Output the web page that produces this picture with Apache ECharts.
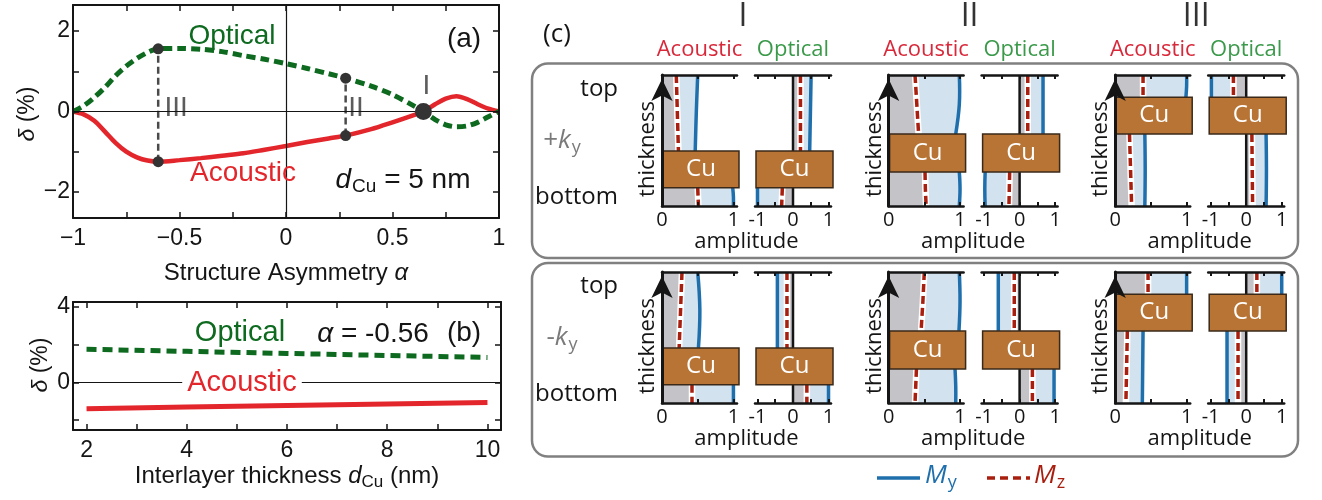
<!DOCTYPE html>
<html>
<head>
<meta charset="utf-8">
<script src="https://cdn.jsdelivr.net/npm/echarts@6/dist/echarts.min.js"></script>
<style>
  html, body { margin: 0; padding: 0; background: #fff; }
  #chart { width: 1322px; height: 500px; }
</style>
</head>
<body>
<div id="chart"></div>
<script>
// (a) dispersion asymmetry vs structure asymmetry
const alphaValues = [-1, -0.95, -0.9, -0.85, -0.8, -0.75, -0.7, -0.65, -0.6, -0.5, -0.4, -0.3, -0.2, -0.1, 0, 0.1, 0.2, 0.28, 0.4, 0.5, 0.6, 0.645, 0.7, 0.75, 0.8, 0.85, 0.9, 0.95, 1];
const acousticDelta = [0, -0.07, -0.23, -0.5, -0.78, -1.0, -1.14, -1.22, -1.25, -1.21, -1.16, -1.1, -1.04, -0.95, -0.86, -0.76, -0.67, -0.6, -0.44, -0.27, -0.09, 0, 0.18, 0.32, 0.38, 0.31, 0.18, 0.07, 0];
const opticalDelta = [0, 0.14, 0.35, 0.6, 0.89, 1.13, 1.32, 1.47, 1.56, 1.57, 1.55, 1.49, 1.39, 1.3, 1.19, 1.07, 0.94, 0.83, 0.63, 0.42, 0.14, 0, -0.2, -0.33, -0.38, -0.36, -0.27, -0.13, 0];

const modeNames = ['I', 'II', 'III'];
const modeAlpha = [0.645, 0.28, -0.6];
const modeAcoustic = [0, -0.6, -1.25];
const modeOptical = [0, 0.83, 1.56];
const modeLabelAlpha = [0.64, 0.31, -0.535];
const modeLabelDelta = [0.62, 0.07, 0.07];

// (b) vs Cu thickness at alpha = -0.56
const dCuValues = [2, 4, 6, 8, 10];
const acousticVsD = [-1.4, -1.31, -1.22, -1.14, -1.06];
const opticalVsD = [1.75, 1.64, 1.53, 1.42, 1.32];

// (c) mode profiles; per mode I, II, III: [top layer (top -> Cu), bottom layer (Cu -> bottom)]
const cuBounds = [[0.14, 0.42], [0.26, 0.55], [0.55, 0.83]];
const myPlusAcoustic = [
  [[0.50, 0.48, 0.465], [0.99, 1.0, 1.0]],
  [[0.99, 0.99, 0.94], [0.99, 1.0, 0.99]],
  [[1.0, 1.0, 0.99], [0.415, 0.42, 0.415]]
];
const mzPlusAcoustic = [
  [[0.20, 0.215, 0.23], [0.50, 0.505, 0.51]],
  [[0.37, 0.395, 0.42], [0.51, 0.515, 0.525]],
  [[0.39, 0.39, 0.39], [0.20, 0.215, 0.23]]
];
const myPlusOptical = [
  [[0.51, 0.49, 0.47], [-1.0, -1.0, -1.0]],
  [[0.66, 0.66, 0.66], [-0.97, -0.98, -0.97]],
  [[-0.98, -0.98, -0.98], [0.56, 0.57, 0.56]]
];
const mzPlusOptical = [
  [[0.21, 0.21, 0.21], [-0.30, -0.31, -0.32]],
  [[0.23, 0.23, 0.23], [-0.28, -0.29, -0.30]],
  [[-0.36, -0.36, -0.36], [0.16, 0.17, 0.18]]
];
const myMinusAcoustic = [
  [[0.50, 0.53, 0.51], [1.0, 1.0, 1.0]],
  [[0.99, 1.0, 0.985], [0.93, 0.94, 0.94]],
  [[1.0, 1.0, 1.0], [0.39, 0.385, 0.38]]
];
const mzMinusAcoustic = [
  [[0.28, 0.26, 0.24], [0.42, 0.42, 0.42]],
  [[0.50, 0.48, 0.455], [0.39, 0.38, 0.37]],
  [[0.46, 0.46, 0.46], [0.17, 0.16, 0.15]]
];
const myMinusOptical = [
  [[-0.44, -0.44, -0.44], [1.0, 1.0, 1.0]],
  [[-0.60, -0.60, -0.60], [0.97, 0.97, 0.97]],
  [[1.0, 1.0, 1.0], [-0.54, -0.54, -0.54]]
];
const mzMinusOptical = [
  [[-0.17, -0.17, -0.17], [0.39, 0.39, 0.39]],
  [[-0.15, -0.15, -0.15], [0.36, 0.36, 0.36]],
  [[0.30, 0.30, 0.30], [-0.23, -0.23, -0.23]]
];

const FONT_AB = '"Liberation Sans", Arial, sans-serif';
const FONT_C = '"Open Sans", sans-serif';
const RED = '#e3262b', GREEN = '#0d6a1f', BLUE = '#1f6fad', MZRED = '#a91f0f';
const GRAY_FILL = '#c4c3c8', BLUE_FILL = '#d2e3ef', CU = '#b87434';
const INK = '#151515';

const chart = echarts.init(document.getElementById('chart'));

const grids = [], xAxes = [], yAxes = [], series = [], graphics = [];

function minus(v) { return String(v).replace('-', '\u2212'); }

function frameAxis(gi, pos, min, max, ticks, labels, margin) {
  return {
    type: 'value', gridIndex: gi, position: pos, min: min, max: max, z: 5,
    axisLine: { show: true, onZero: false, lineStyle: { color: INK, width: 2 } },
    axisTick: { show: true, inside: true, length: 6, customValues: ticks, lineStyle: { color: INK, width: 1.5 } },
    axisLabel: { show: !!labels, customValues: labels || [], formatter: minus, margin: margin,
      fontSize: 23, fontFamily: FONT_AB, color: INK },
    splitLine: { show: false }
  };
}

// ---- (a)
grids.push({ left: 73, top: 5, width: 426, height: 213 });
const aTicksX = [-1, -0.75, -0.5, -0.25, 0, 0.25, 0.5, 0.75, 1];
xAxes.push(frameAxis(0, 'bottom', -1, 1, aTicksX, [-1, -0.5, 0, 0.5, 1], 9));
xAxes.push(frameAxis(0, 'top', -1, 1, aTicksX, null));
yAxes.push(frameAxis(0, 'left', -2.65, 2.65, [-2, -1, 0, 1, 2], [-2, 0, 2], 3));
yAxes.push(frameAxis(0, 'right', -2.65, 2.65, [-2, -1, 0, 1, 2], null));

// ---- (b)
grids.push({ left: 73, top: 302, width: 428, height: 128 });
const bTicksX = [2, 3, 4, 5, 6, 7, 8, 9, 10];
xAxes.push(frameAxis(1, 'bottom', 1.73, 10.27, bTicksX, [2, 4, 6, 8, 10], 9));
xAxes.push(frameAxis(1, 'top', 1.73, 10.27, bTicksX, null));
yAxes.push(frameAxis(1, 'left', -2.52, 4.25, [-2, 0, 2, 4], [0, 4], 3));
yAxes.push(frameAxis(1, 'right', -2.52, 4.25, [-2, 0, 2, 4], null));

const zeroLine = { silent: true, symbol: 'none', label: { show: false },
  lineStyle: { color: INK, width: 1.2, type: 'solid' } };

series.push({ type: 'line', xAxisIndex: 0, yAxisIndex: 0, data: [], z: 1,
  markLine: Object.assign({ data: [{ yAxis: 0 }, { xAxis: 0 }] }, zeroLine) });
series.push({ type: 'scatter', xAxisIndex: 0, yAxisIndex: 0, z: 2, symbolSize: 1,
  itemStyle: { color: 'rgba(0,0,0,0)' },
  data: modeNames.map((n, i) => ({ value: [modeLabelAlpha[i], modeLabelDelta[i]], name: n })),
  label: { show: true, position: 'inside', formatter: '{b}', fontSize: 28, fontFamily: FONT_AB,
    color: '#333', backgroundColor: '#fff', padding: [0, 4, 0, 12] } });
[1, 2].forEach(i => {
  series.push({ type: 'line', xAxisIndex: 0, yAxisIndex: 0, z: 3, showSymbol: false,
    data: [[modeAlpha[i], modeAcoustic[i]], [modeAlpha[i], modeOptical[i]]],
    lineStyle: { color: '#4a4a4a', width: 2.5, type: [7, 4] } });
});
series.push({ type: 'line', xAxisIndex: 0, yAxisIndex: 0, z: 4, smooth: 0.3, showSymbol: false,
  data: alphaValues.map((a, i) => [a, acousticDelta[i]]),
  lineStyle: { color: RED, width: 4.5 } });
series.push({ type: 'line', xAxisIndex: 0, yAxisIndex: 0, z: 4, smooth: 0.3, showSymbol: false,
  data: alphaValues.map((a, i) => [a, opticalDelta[i]]),
  lineStyle: { color: GREEN, width: 5, type: [9, 5], cap: 'butt' } });
series.push({ type: 'scatter', xAxisIndex: 0, yAxisIndex: 0, z: 5,
  symbolSize: (v, p) => (p.dataIndex < 1 ? 17 : 11),
  itemStyle: { color: '#333', opacity: 1 },
  data: [[modeAlpha[0], modeAcoustic[0]]]
    .concat([1, 2].map(i => [modeAlpha[i], modeAcoustic[i]]))
    .concat([1, 2].map(i => [modeAlpha[i], modeOptical[i]])) });

series.push({ type: 'line', xAxisIndex: 2, yAxisIndex: 2, data: [], z: 1,
  markLine: Object.assign({ data: [{ yAxis: 0 }] }, zeroLine) });
series.push({ type: 'line', xAxisIndex: 2, yAxisIndex: 2, z: 4, showSymbol: false,
  data: dCuValues.map((d, i) => [d, acousticVsD[i]]),
  lineStyle: { color: RED, width: 5 } });
series.push({ type: 'line', xAxisIndex: 2, yAxisIndex: 2, z: 4, showSymbol: false,
  data: dCuValues.map((d, i) => [d, opticalVsD[i]]),
  lineStyle: { color: GREEN, width: 5, type: [10, 6], cap: 'butt' } });

// ---- (c)
const rowTops = [75, 272];
const profiles = [
  [[myPlusAcoustic, mzPlusAcoustic], [myPlusOptical, mzPlusOptical]],
  [[myMinusAcoustic, mzMinusAcoustic], [myMinusOptical, mzMinusOptical]]
];

function panelRenderer(myProf, mzProf, cu, xMin, xMax, optical) {
  return function (params, api) {
    const fills = [], lines = [];
    [[1, cu[1]], [cu[0], 0]].forEach(function (span, li) {
      const my = myProf[li], mz = mzProf[li];
      const ts = my.map((_, k) => span[0] + (span[1] - span[0]) * k / (my.length - 1));
      const zeroPts = ts.map(t => api.coord([0, t]));
      const mzPts = ts.map((t, k) => api.coord([mz[k], t]));
      const myPts = ts.map((t, k) => api.coord([my[k], t]));
      fills.push({ type: 'polygon', shape: { points: zeroPts.concat(mzPts.slice().reverse()) }, style: { fill: GRAY_FILL } });
      fills.push({ type: 'polygon', shape: { points: mzPts.concat(myPts.slice().reverse()) }, style: { fill: BLUE_FILL } });
      lines.push({ type: 'polyline', shape: { points: myPts, smooth: 0.4 }, style: { stroke: BLUE, lineWidth: 3.5, fill: null } });
      lines.push({ type: 'polyline', shape: { points: mzPts }, style: { stroke: '#fff', lineWidth: 6.5, fill: null } });
      lines.push({ type: 'polyline', shape: { points: mzPts }, style: { stroke: MZRED, lineWidth: 3.5, lineDash: [8, 4], fill: null } });
    });
    const kids = fills;
    if (optical) {
      const a = api.coord([0, 0]), b = api.coord([0, 1]);
      kids.push({ type: 'line', shape: { x1: a[0], y1: a[1], x2: b[0], y2: b[1] }, style: { stroke: INK, lineWidth: 2.5 } });
    }
    const p0 = api.coord([xMin, cu[1]]), p1 = api.coord([xMax, cu[0]]);
    return { type: 'group', children: kids.concat(lines).concat([
      { type: 'rect', shape: { x: p0[0] + 1, y: p0[1], width: p1[0] - p0[0] + 1, height: p1[1] - p0[1] },
        style: { fill: CU, stroke: '#3a2818', lineWidth: 1.5 } },
      { type: 'text', x: (p0[0] + p1[0]) / 2 + 1.5, y: (p0[1] + p1[1]) / 2,
        style: { text: 'Cu', fill: '#fff', fontSize: 24, fontFamily: FONT_C, align: 'center', verticalAlign: 'middle' } }
    ]) };
  };
}

function smallXAxis(gi, pos, optical, showLabels) {
  return {
    type: 'value', gridIndex: gi, position: pos, z: 5,
    min: optical ? -1.07 : 0, max: optical ? 1.07 : 1.05,
    axisLine: { show: true, onZero: false, lineStyle: { color: INK, width: 2.5 } },
    axisTick: { show: true, inside: true, length: 4, customValues: optical ? [-1, -0.5, 0, 0.5, 1] : [0, 0.5, 1],
      lineStyle: { color: INK, width: 2 } },
    axisLabel: { show: showLabels, customValues: optical ? [-1, 0, 1] : [0, 1], margin: 4,
      fontSize: 20, fontFamily: FONT_C, color: INK },
    splitLine: { show: false }
  };
}

function text(x, y, str, size, color, extra) {
  return Object.assign({ type: 'text', x: x, y: y, z: 100, silent: true,
    style: Object.assign({ text: str, fontSize: size, fontFamily: FONT_AB, fill: color,
      align: 'center', verticalAlign: 'middle' }, (extra && extra.style) || {}) },
    (extra && extra.el) || {});
}

for (let r = 0; r < 2; r++) {
  for (let c = 0; c < 3; c++) {
    for (let b = 0; b < 2; b++) {
      const gi = grids.length;
      const left = (b ? 755 : 662) + 226.6 * c;
      const width = b ? 76 : 75;
      grids.push({ left: left, top: rowTops[r], width: width, height: 131 });
      const xi = xAxes.length;
      xAxes.push(smallXAxis(gi, 'bottom', b === 1, true));
      xAxes.push(smallXAxis(gi, 'top', b === 1, false));
      const yi = yAxes.length;
      yAxes.push({ type: 'value', gridIndex: gi, min: 0, max: 1, z: 6,
        axisLine: { show: b === 0, onZero: false, symbol: ['none', 'arrow'], symbolSize: [16, 22], symbolOffset: [0, -4],
          lineStyle: { color: INK, width: 3 } },
        axisTick: { show: false }, axisLabel: { show: false }, splitLine: { show: false } });
      const prof = profiles[r][b];
      series.push({ type: 'custom', xAxisIndex: xi, yAxisIndex: yi, z: 2, data: [[0, 0]],
        renderItem: panelRenderer(prof[0][c], prof[1][c], cuBounds[c],
          b ? -1.07 : 0, b ? 1.07 : 1.05, b === 1) });
    }
    const acLeft = 662 + 226.6 * c, optLeft = 755 + 226.6 * c;
    graphics.push(text(acLeft - 14, rowTops[r] + 74, 'thickness', 22, INK,
      { el: { rotation: Math.PI / 2 }, style: { fontFamily: FONT_C } }));
    graphics.push(text((acLeft + optLeft + 76) / 2, rowTops[r] + 167, 'amplitude', 22, INK, { style: { fontFamily: FONT_C } }));
    if (r === 0) {
      graphics.push(text(acLeft + 37.5, 50, 'Acoustic', 22, '#d8283a', { style: { fontFamily: FONT_C } }));
      graphics.push(text(optLeft + 38, 50, 'Optical', 22, '#3a9a4a', { style: { fontFamily: FONT_C } }));
      graphics.push(text(743 + 226.6 * c, 17, modeNames[c], 32, '#333', { style: { fontFamily: FONT_C } }));
    }
  }
  graphics.push(text(618, rowTops[r] + 14, 'top', 24, INK, { style: { fontFamily: FONT_C, align: 'right' } }));
  graphics.push(text(618, rowTops[r] + 122, 'bottom', 24, INK, { style: { fontFamily: FONT_C, align: 'right' } }));
  graphics.push(text(562, rowTops[r] + 66, (r === 0 ? '+' : '-') + '{k|k}{s|y}', 26, '#7a7a7a',
    { style: { fontFamily: FONT_C, rich: {
      k: { fontStyle: 'italic', fontSize: 26, fontFamily: FONT_C, fill: '#7a7a7a' },
      s: { fontSize: 18, fontFamily: FONT_C, fill: '#7a7a7a', padding: [14, 0, 0, 1] } } } }));
}

// rounded frames of (c)
[[63.5, 194.5], [263, 193.5]].forEach(f => {
  graphics.push({ type: 'rect', z: 1, silent: true, shape: { x: 532, y: f[0], width: 766, height: f[1], r: 16 },
    style: { fill: 'none', stroke: '#808080', lineWidth: 2.5 } });
});
graphics.push(text(557, 35, '(c)', 26, INK, { style: { fontFamily: FONT_C } }));

// legend of (c)
graphics.push({ type: 'line', z: 100, silent: true, shape: { x1: 877, y1: 478, x2: 920, y2: 478 },
  style: { stroke: BLUE, lineWidth: 3.5 } });
graphics.push({ type: 'line', z: 100, silent: true, shape: { x1: 987, y1: 478, x2: 1030, y2: 478 },
  style: { stroke: MZRED, lineWidth: 3.5, lineDash: [8, 5] } });
const legendRich = color => ({
  m: { fontStyle: 'italic', fontSize: 26, fontFamily: FONT_C, fill: color },
  s: { fontSize: 18, fontFamily: FONT_C, fill: color, padding: [14, 0, 0, 1] }
});
graphics.push(text(925, 476, '{m|M}{s|y}', 26, BLUE, { style: { align: 'left', rich: legendRich(BLUE) } }));
graphics.push(text(1034, 476, '{m|M}{s|z}', 26, MZRED, { style: { align: 'left', rich: legendRich(MZRED) } }));

// texts of (a) and (b)
const deltaRich = { i: { fontStyle: 'italic', fontSize: 23, fontFamily: FONT_AB, fill: INK } };
graphics.push(text(28, 114, '{i|δ} (%)', 23, INK, { el: { rotation: Math.PI / 2 }, style: { rich: deltaRich } }));
graphics.push(text(41, 365, '{i|δ} (%)', 23, INK, { el: { rotation: Math.PI / 2 }, style: { rich: deltaRich } }));
graphics.push(text(286, 273, 'Structure Asymmetry {i|α}', 24, INK,
  { style: { rich: { i: { fontStyle: 'italic', fontSize: 24, fontFamily: FONT_AB, fill: INK } } } }));
graphics.push(text(287, 476, 'Interlayer thickness {i|d}{s|Cu} (nm)', 24, INK,
  { style: { rich: {
    i: { fontStyle: 'italic', fontSize: 24, fontFamily: FONT_AB, fill: INK },
    s: { fontSize: 17, fontFamily: FONT_AB, fill: INK, padding: [12, 0, 0, 0] } } } }));
graphics.push(text(232, 36, 'Optical', 28, GREEN));
graphics.push(text(243, 173, 'Acoustic', 28, RED));
graphics.push(text(464, 39, '(a)', 28, INK));
graphics.push(text(403, 180, '{i|d}{s|Cu} = 5 nm', 28, INK,
  { style: { rich: {
    i: { fontStyle: 'italic', fontSize: 28, fontFamily: FONT_AB, fill: INK },
    s: { fontSize: 19, fontFamily: FONT_AB, fill: INK, padding: [14, 0, 0, 1] } } } }));
graphics.push(text(240, 333, 'Optical', 29, GREEN));
graphics.push(text(373, 334, '{i|α} = -0.56', 28, INK,
  { style: { rich: { i: { fontStyle: 'italic', fontSize: 28, fontFamily: FONT_AB, fill: INK } } } }));
graphics.push(text(464, 333, '(b)', 28, INK));
graphics.push(text(242, 383, 'Acoustic', 29, RED, { style: { backgroundColor: '#fff', padding: [0, 5] } }));

chart.setOption({
  animation: false,
  grid: grids,
  xAxis: xAxes,
  yAxis: yAxes,
  series: series,
  graphic: { elements: graphics }
});
</script>
</body>
</html>
